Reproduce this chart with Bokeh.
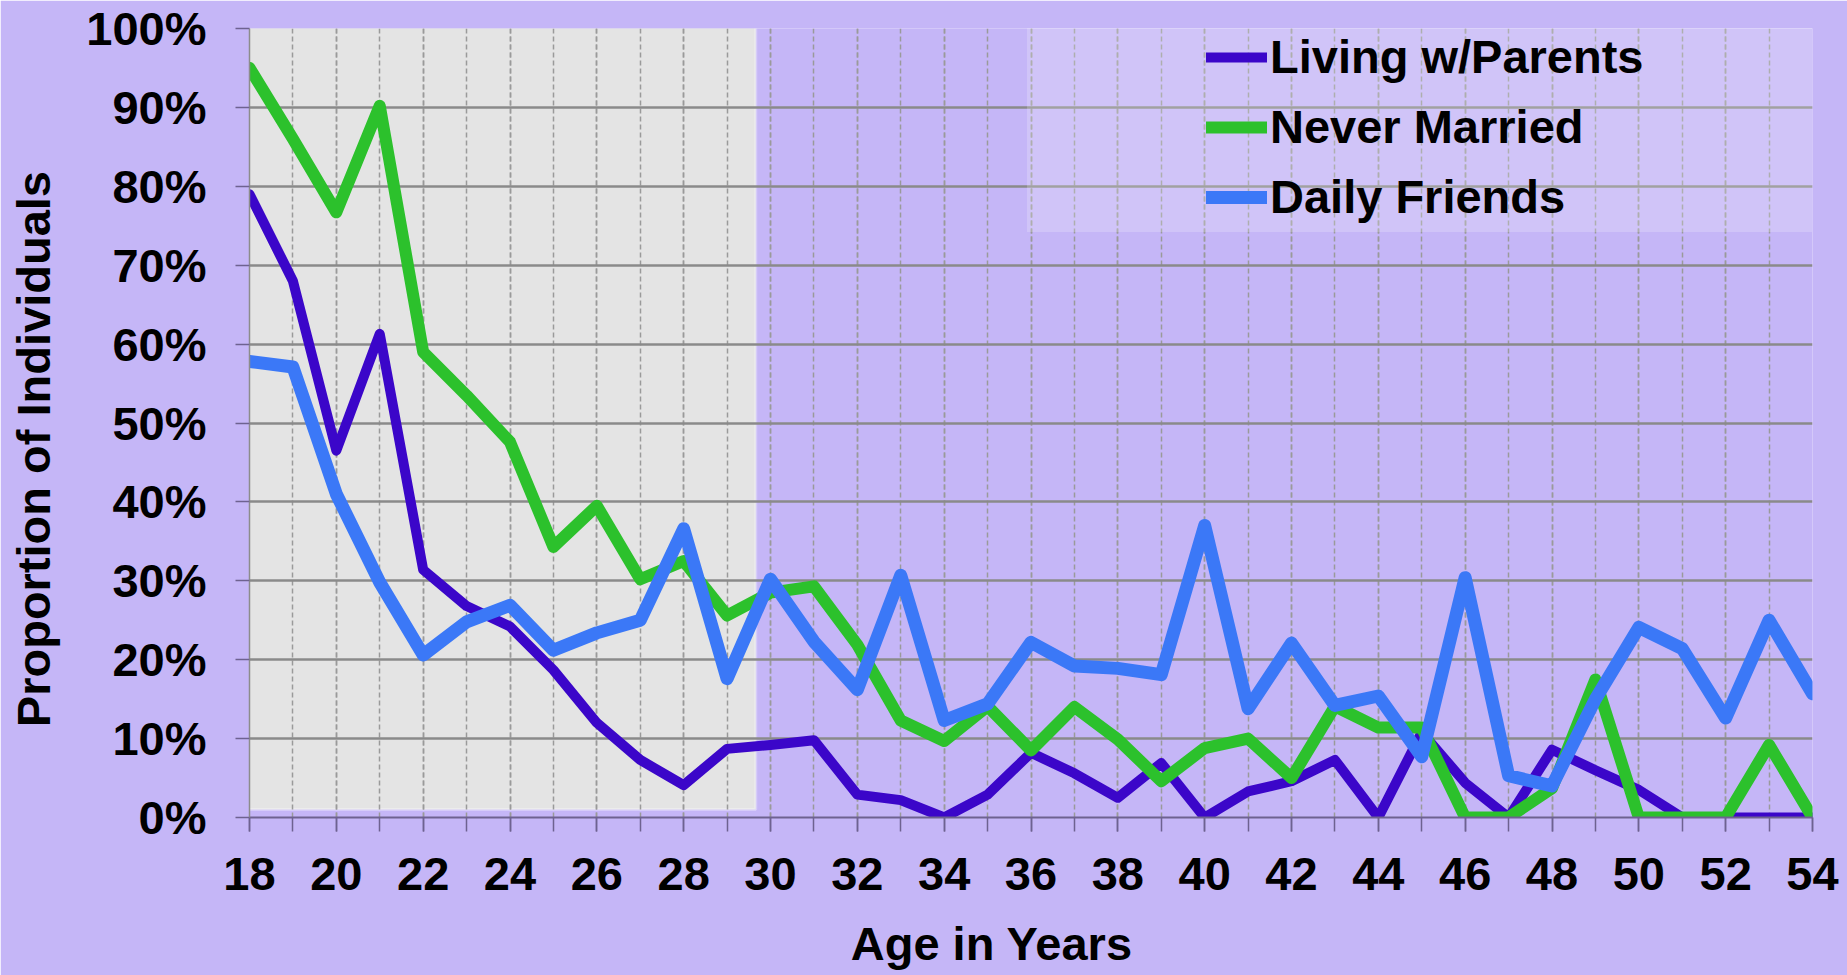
from bokeh.plotting import figure
from bokeh.models import (FixedTicker, NumeralTickFormatter, BoxAnnotation, Legend,
                          LegendItem, Range1d)
from bokeh.embed import file_html
from bokeh.resources import INLINE

ages = list(range(18, 55))
living_w_parents = [0.79, 0.68, 0.465, 0.613, 0.314, 0.268, 0.242, 0.187, 0.12, 0.073,
                    0.041, 0.087, 0.092, 0.098, 0.029, 0.022, 0.0, 0.029, 0.082, 0.056,
                    0.025, 0.069, 0.0, 0.033, 0.046, 0.073, 0.0, 0.108, 0.044, 0.0,
                    0.086, 0.06, 0.035, 0.0, 0.0, 0.0, 0.0]
never_married = [0.95, 0.86, 0.767, 0.902, 0.59, 0.535, 0.476, 0.343, 0.395, 0.302,
                 0.325, 0.256, 0.285, 0.293, 0.219, 0.123, 0.097, 0.141, 0.085, 0.14,
                 0.099, 0.046, 0.088, 0.10, 0.05, 0.141, 0.114, 0.114, 0.0, 0.0,
                 0.037, 0.175, 0.0, 0.0, 0.0, 0.092, 0.0]
daily_friends = [0.578, 0.571, 0.41, 0.298, 0.206, 0.248, 0.269, 0.212, 0.234, 0.25,
                 0.366, 0.176, 0.302, 0.223, 0.162, 0.307, 0.123, 0.144, 0.222, 0.192,
                 0.189, 0.181, 0.37, 0.138, 0.221, 0.142, 0.154, 0.077, 0.304, 0.053,
                 0.04, 0.15, 0.241, 0.214, 0.126, 0.25, 0.157]
series_names = ["Living w/Parents", "Never Married", "Daily Friends"]
x_tick_labels = list(range(18, 55, 2))
y_ticks = [i / 10 for i in range(11)]
x_title = "Age in Years"
y_title = "Proportion of Individuals"

BG = "#C5B6F7"
FONT = "Liberation Sans"
NBSP = "\u00a0"

p = figure(width=1847, height=975, output_backend="svg", toolbar_location=None,
           x_range=Range1d(18, 54), y_range=Range1d(0, 1.0),
           min_border_left=249, min_border_right=35, min_border_top=28,
           min_border_bottom=158)
p.background_fill_color = BG
p.border_fill_color = BG
p.outline_line_color = None

# shaded early-adulthood region
p.add_layout(BoxAnnotation(left=17.84, right=29.66, bottom=0.0102, top=1.005,
                           fill_color="#E4E4E4", fill_alpha=1.0,
                           line_color="white", line_width=3, level="image"))

colors = ["#3B06C9", "#2CC12C", "#3B78F7"]
widths = [10, 12, 13]
renderers = []
for ys, c, w in zip([living_w_parents, never_married, daily_friends], colors, widths):
    r = p.line(ages, ys, line_color=c, line_width=w, line_join="round", line_cap="round")
    renderers.append(r)

# axes
xa = p.xaxis[0]
xa.ticker = FixedTicker(ticks=x_tick_labels, minor_ticks=ages)
xa.major_label_text_font = FONT
xa.major_label_text_font_style = "bold"
xa.major_label_text_font_size = "47px"
xa.major_label_text_color = "black"
xa.major_label_standoff = 26
xa.major_tick_out = 14
xa.major_tick_in = 0
xa.minor_tick_out = 14
xa.minor_tick_in = 0
xa.major_tick_line_color = "#6E6290"
xa.minor_tick_line_color = "#6E6290"
xa.major_tick_line_width = 1.5
xa.minor_tick_line_width = 1.5
xa.axis_line_color = "#6E6290"
xa.axis_line_width = 2
xa.axis_label = x_title + NBSP * 6
xa.axis_label_standoff = 24
xa.axis_label_text_font = FONT
xa.axis_label_text_font_style = "bold"
xa.axis_label_text_font_size = "47px"
xa.axis_label_text_color = "black"

ya = p.yaxis[0]
ya.ticker = FixedTicker(ticks=y_ticks)
ya.formatter = NumeralTickFormatter(format="0%")
ya.major_label_text_font = FONT
ya.major_label_text_font_style = "bold"
ya.major_label_text_font_size = "47px"
ya.major_label_text_color = "black"
ya.major_label_standoff = 29
ya.major_tick_out = 14
ya.major_tick_in = 0
ya.minor_tick_line_color = None
ya.major_tick_line_color = "#6E6290"
ya.major_tick_line_width = 1.5
ya.axis_line_color = "#8C8C8C"
ya.axis_line_width = 1.5
ya.axis_label = y_title + NBSP * 4
ya.axis_label_standoff = 23
ya.axis_label_text_font = FONT
ya.axis_label_text_font_style = "bold"
ya.axis_label_text_font_size = "47px"
ya.axis_label_text_color = "black"

# grids
p.xgrid.grid_line_color = "#9A9A9A"
p.xgrid.grid_line_width = 1.5
p.xgrid.grid_line_dash = "5 3"
p.xgrid.minor_grid_line_color = "#9A9A9A"
p.xgrid.minor_grid_line_width = 1.5
p.xgrid.minor_grid_line_dash = "5 3"
p.ygrid.grid_line_color = "#8A8A8A"
p.ygrid.grid_line_width = 2.5

legend = Legend(items=[LegendItem(label=n, renderers=[r]) for n, r in zip(series_names, renderers)],
                location=(778, 585), padding=8, margin=0, spacing=15,
                title=NBSP, title_location="left", title_standoff=116,
                title_text_font_size="47px",
                glyph_width=61, glyph_height=54, label_height=54, label_standoff=3,
                label_width=556,
                label_text_font=FONT, label_text_font_style="bold",
                label_text_font_size="47px", label_text_color="black",
                background_fill_color="white", background_fill_alpha=0.2,
                border_line_alpha=0)
p.add_layout(legend)

open("out.html", "w").write(file_html(p, INLINE))
